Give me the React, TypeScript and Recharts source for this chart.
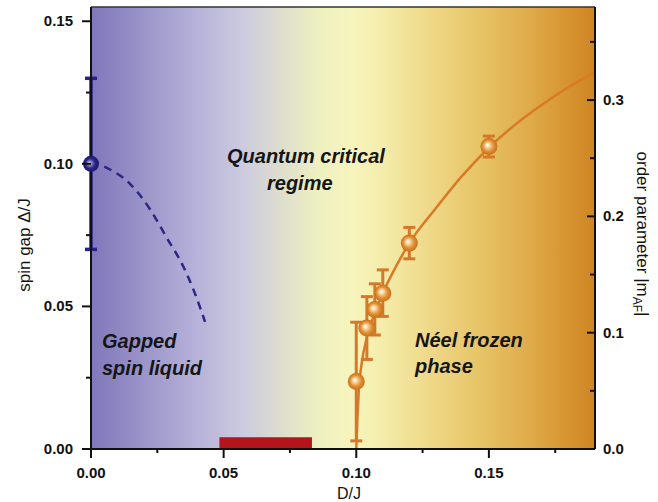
import React from "react";
import {
  ComposedChart,
  XAxis,
  YAxis,
  Line,
  Scatter,
  ErrorBar,
  CartesianGrid,
  ReferenceArea,
  ReferenceLine,
} from "recharts";

// axis ticks (majors get labels, the rest are minor marks)
const xTicks = [0, 0.025, 0.05, 0.075, 0.1, 0.125, 0.15, 0.175];
const gapTicks = [0, 0.025, 0.05, 0.075, 0.1, 0.125, 0.15];
const orderTicks = [0, 0.05, 0.1, 0.15, 0.2, 0.25, 0.3, 0.35];

// spin gap at D/J = 0 with its error bar
const gapPointD = [0];
const gapPointValue = [0.1];
const gapPointErr = [0.03];

// dashed guide for the closing gap
const dashD = [0.005, 0.0147, 0.0223, 0.0286, 0.0348, 0.0392, 0.043];
const dashGap = [0.099, 0.093, 0.084, 0.074, 0.064, 0.0545, 0.0446];

// order parameter points
const orderD = [0.1, 0.104, 0.107, 0.11, 0.12, 0.15];
const orderValue = [0.058, 0.104, 0.12, 0.134, 0.177, 0.26];
const orderErr = [0.051, 0.027, 0.022, 0.02, 0.0135, 0.009];

// fitted order parameter curve
const fitD = [0.1, 0.1005, 0.101, 0.102, 0.104, 0.107, 0.11, 0.115, 0.12, 0.13, 0.14, 0.15, 0.16, 0.17, 0.18, 0.19];
const fitValue = [0, 0.03, 0.052, 0.073, 0.096, 0.117, 0.134, 0.157, 0.177, 0.207, 0.235, 0.259, 0.279, 0.296, 0.311, 0.324];

// red band on the D/J axis
const redBandD = [0.0484, 0.0833];
const redBandTop = 0.0041;

const xDomain = [0, 0.19];
const gapDomain = [0, 0.155];
const orderDomain = [0, 0.38];

const gapPoints = gapPointD.map((D, i) => ({ D, gap: gapPointValue[i], err: gapPointErr[i] }));
const dashData = dashD.map((D, i) => ({ D, gap: dashGap[i] }));
const orderPoints = orderD.map((D, i) => ({ D, m: orderValue[i], err: orderErr[i] }));
const fitData = fitD.map((D, i) => ({ D, m: fitValue[i] }));

const tickFont = {
  fontFamily: "'Liberation Sans', Arial, sans-serif",
  fontWeight: 700,
  fontSize: 15,
  fill: "#111",
};

const isMajor = (v: number, step: number) => Math.abs(v / step - Math.round(v / step)) < 1e-6;

function LeftTick({ x, y, payload }: any) {
  const v = payload.value;
  const major = isMajor(v, 0.05);
  return (
    <g>
      <line x1={x - (major ? 9 : 5)} x2={x} y1={y} y2={y} stroke="#111" strokeWidth={2} />
      {major && (
        <text x={x - 18} y={y + 5} textAnchor="end" {...tickFont}>
          {v.toFixed(2)}
        </text>
      )}
    </g>
  );
}

function RightTick({ x, y, payload }: any) {
  const v = payload.value;
  const major = isMajor(v, 0.1);
  return (
    <g>
      <line x1={x - (major ? 8 : 5)} x2={x} y1={y} y2={y} stroke="#111" strokeWidth={2} />
      {major && (
        <text x={x + 8} y={y + 5} textAnchor="start" {...tickFont}>
          {v.toFixed(1)}
        </text>
      )}
    </g>
  );
}

function BottomTick({ x, y, payload }: any) {
  const v = payload.value;
  const major = isMajor(v, 0.05);
  return (
    <g>
      <line x1={x} x2={x} y1={y} y2={y + (major ? 9 : 4)} stroke="#111" strokeWidth={2} />
      {major && (
        <text x={x} y={y + 29} textAnchor="middle" {...tickFont}>
          {v.toFixed(2)}
        </text>
      )}
    </g>
  );
}

const OrangeBall = (p: any) => <circle cx={p.cx} cy={p.cy} r={8.5} fill="url(#orangeBall)" />;
const BlueBall = (p: any) => <circle cx={p.cx} cy={p.cy} r={8} fill="url(#blueBall)" />;

const noteStyle = {
  fontFamily: "'Liberation Sans', Arial, sans-serif",
  fontWeight: 700,
  fontStyle: "italic",
  fontSize: 20,
  fill: "#151515",
};

const titleStyle = {
  fontFamily: "'Liberation Sans', Arial, sans-serif",
  fontSize: 17,
  fill: "#111",
};

export default function App() {
  return (
    <div style={{ position: "absolute", left: 0, top: 0, width: 658, height: 502, background: "#fff" }}>
      <ComposedChart width={658} height={502} margin={{ top: 7, right: 0, bottom: 0, left: 0 }}>
        <defs>
          <linearGradient id="bg" x1="0" y1="0" x2="1" y2="0">
            <stop offset="0" stopColor="#7f77ba" />
            <stop offset="0.1" stopColor="#9a93c8" />
            <stop offset="0.2" stopColor="#b4afd8" />
            <stop offset="0.3" stopColor="#cccadf" />
            <stop offset="0.37" stopColor="#dcdccf" />
            <stop offset="0.45" stopColor="#eef0c0" />
            <stop offset="0.52" stopColor="#f7f5bd" />
            <stop offset="0.58" stopColor="#f4ecaa" />
            <stop offset="0.67" stopColor="#efd989" />
            <stop offset="0.77" stopColor="#e7c466" />
            <stop offset="0.87" stopColor="#dfab4b" />
            <stop offset="0.95" stopColor="#d6922f" />
            <stop offset="1" stopColor="#cf8524" />
          </linearGradient>
          <radialGradient id="orangeBall" cx="50%" cy="50%" r="50%" fx="40%" fy="40%">
            <stop offset="0" stopColor="#ffffff" />
            <stop offset="0.28" stopColor="#f6d4a4" />
            <stop offset="0.62" stopColor="#e39434" />
            <stop offset="1" stopColor="#c96e1c" />
          </radialGradient>
          <radialGradient id="blueBall" cx="50%" cy="50%" r="50%" fx="38%" fy="45%">
            <stop offset="0" stopColor="#ffffff" />
            <stop offset="0.25" stopColor="#8c88c8" />
            <stop offset="0.6" stopColor="#2c2788" />
            <stop offset="1" stopColor="#1b1766" />
          </radialGradient>
        </defs>
        <CartesianGrid horizontal={false} vertical={false} fill="url(#bg)" fillOpacity={1} yAxisId="gap" />
        <XAxis
          dataKey="D"
          type="number"
          domain={xDomain}
          ticks={xTicks}
          height={53}
          tickSize={0}
          tickMargin={0}
          tick={<BottomTick />}
          axisLine={{ stroke: "#111", strokeWidth: 2 }}
          interval={0}
        />
        <YAxis
          yAxisId="gap"
          type="number"
          domain={gapDomain}
          ticks={gapTicks}
          width={91}
          tickSize={0}
          tickMargin={0}
          tick={<LeftTick />}
          axisLine={{ stroke: "#111", strokeWidth: 2 }}
          interval={0}
        />
        <YAxis
          yAxisId="m"
          orientation="right"
          type="number"
          domain={orderDomain}
          ticks={orderTicks}
          width={63}
          tickSize={0}
          tickMargin={0}
          tick={<RightTick />}
          axisLine={{ stroke: "#111", strokeWidth: 2 }}
          interval={0}
        />
        <ReferenceLine yAxisId="gap" y={gapDomain[1]} stroke="#333" strokeWidth={1.5} />
        <ReferenceArea
          yAxisId="gap"
          x1={redBandD[0]}
          x2={redBandD[1]}
          y1={0}
          y2={redBandTop}
          fill="#b5141b"
          fillOpacity={1}
          stroke="none"
        />
        <Line
          yAxisId="gap"
          data={dashData}
          dataKey="gap"
          type="monotone"
          stroke="#2b2784"
          strokeWidth={2.5}
          strokeDasharray="8 6"
          dot={false}
          isAnimationActive={false}
        />
        <Line
          yAxisId="m"
          data={fitData}
          dataKey="m"
          type="monotone"
          stroke="#d97a26"
          strokeWidth={2.5}
          dot={false}
          isAnimationActive={false}
        />
        <Scatter yAxisId="gap" data={gapPoints} dataKey="gap" shape={BlueBall} isAnimationActive={false}>
          <ErrorBar dataKey="err" direction="y" width={6} stroke="#27228a" strokeWidth={3.5} />
        </Scatter>
        <Scatter yAxisId="m" data={orderPoints} dataKey="m" shape={OrangeBall} isAnimationActive={false}>
          <ErrorBar dataKey="err" direction="y" width={6} stroke="#d6782a" strokeWidth={3} />
        </Scatter>
      </ComposedChart>
      <svg
        width={658}
        height={502}
        style={{ position: "absolute", left: 0, top: 0, pointerEvents: "none" }}
      >
        <text x={227} y={163} {...noteStyle}>Quantum critical</text>
        <text x={267} y={190} {...noteStyle}>regime</text>
        <text x={102} y={348} {...noteStyle}>Gapped</text>
        <text x={102} y={375} {...noteStyle}>spin liquid</text>
        <text x={415} y={347} {...noteStyle}>Néel frozen</text>
        <text x={415} y={373} {...noteStyle}>phase</text>
        <text transform="translate(30,245) rotate(-90)" textAnchor="middle" {...titleStyle}>
          spin gap Δ/J
        </text>
        <text transform="translate(637,234) rotate(90)" textAnchor="middle" {...titleStyle}>
          order parameter |m
          <tspan dy={4} fontSize={12}>AF</tspan>
          <tspan dy={-4}>|</tspan>
        </text>
        <text x={349} y={499} textAnchor="middle" {...titleStyle} fontSize={16}>
          D/J
        </text>
      </svg>
    </div>
  );
}
